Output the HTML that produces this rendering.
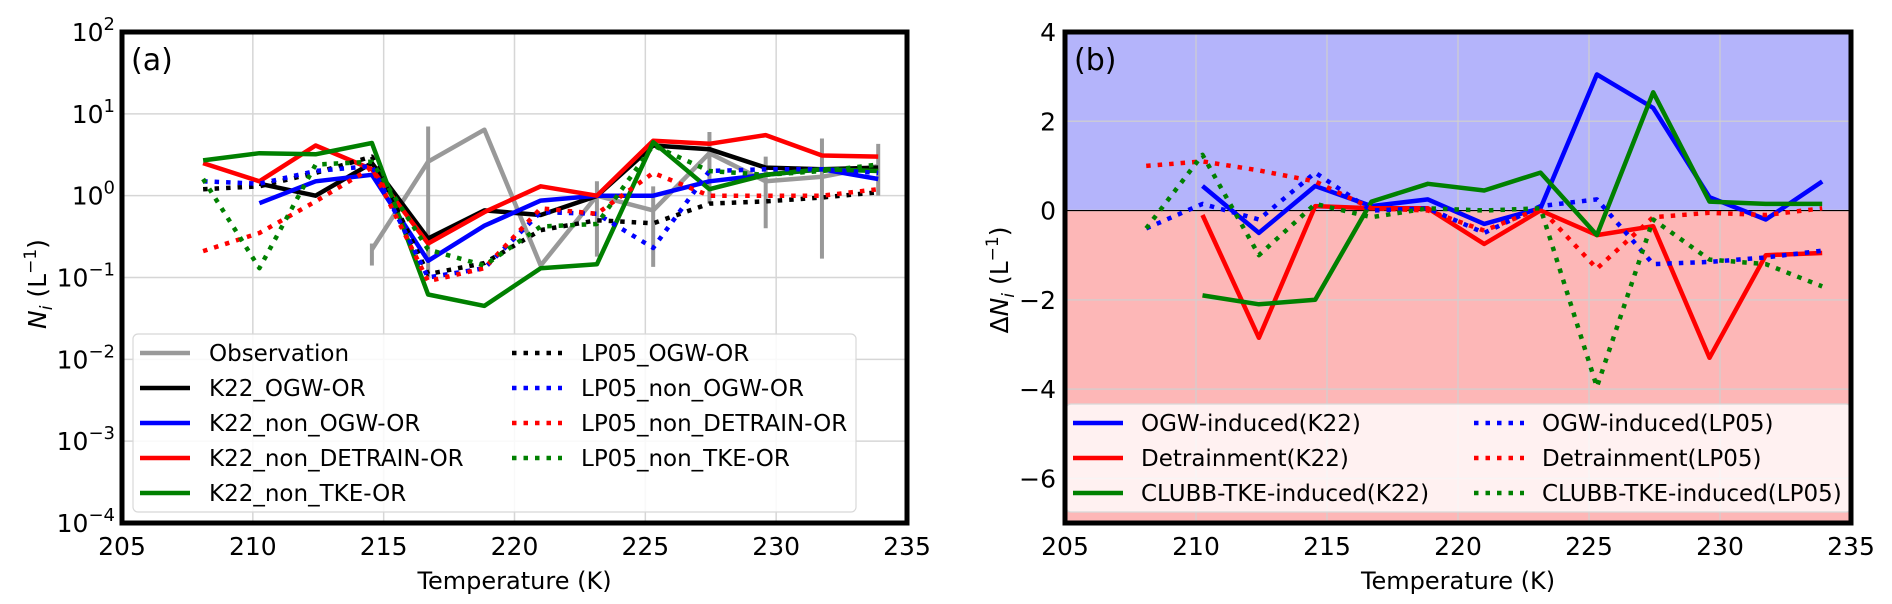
<!DOCTYPE html>
<html><head><meta charset="utf-8"><style>
html,body{margin:0;padding:0;background:#fff;}
svg{display:block;font-family:"DejaVu Sans","Liberation Sans",sans-serif;}
</style></head><body>
<svg id="fig" width="1892" height="604" viewBox="0 0 1892 604" xmlns="http://www.w3.org/2000/svg">
<g id="pa"></g>
<g id="pb"></g>
</svg>
<script>
const temps=[208.1,210.25,212.4,214.55,216.7,218.85,221.0,223.15,225.3,227.45,229.6,231.75,233.9];
// Panel (a) values (L^-1), null = no point
const obs=[null,null,null,0.22,2.6,6.4,0.14,1.0,0.66,3.3,1.5,1.7,2.3];
const obsLo=[null,null,null,0.14,0.1,null,null,0.18,0.135,0.8,0.4,0.17,1.0];
const obsHi=[null,null,null,0.26,7.0,null,null,1.5,1.3,6.0,3.0,5.0,4.3];
const k22Ogw=[null,1.4,1.0,2.5,0.3,0.66,0.58,0.99,4.1,3.7,2.2,2.1,2.2];
const k22NonOgw=[null,0.81,1.5,1.8,0.16,0.43,0.87,1.0,1.0,1.5,1.8,2.1,1.6];
const k22NonDet=[2.5,1.5,4.1,2.1,0.26,0.63,1.3,1.0,4.7,4.3,5.5,3.1,3.0];
const k22NonTke=[2.7,3.3,3.2,4.4,0.062,0.045,0.13,0.145,4.5,1.2,1.8,2.1,2.0];
const lpOgw=[1.2,1.3,1.9,3.0,0.11,0.15,0.38,0.5,0.46,0.8,0.85,0.95,1.1];
const lpNonOgw=[1.5,1.4,2.0,2.3,0.1,0.13,0.63,0.6,0.23,2.0,2.1,2.1,1.9];
const lpNonDet=[0.21,0.35,0.85,2.2,0.09,0.13,0.7,0.6,1.9,1.0,1.0,1.0,1.2];
const lpNonTke=[1.6,0.13,2.4,2.6,0.22,0.14,0.42,0.45,4.1,2.0,1.8,2.0,2.4];
// Panel (b) values (L^-1)
const dOgwK=[null,0.55,-0.5,0.55,0.1,0.25,-0.3,0.05,3.05,2.3,0.3,-0.2,0.65];
const dDetK=[null,-0.1,-2.85,0.1,0.05,0.05,-0.75,0.0,-0.55,-0.35,-3.3,-1.0,-0.95];
const dTkeK=[null,-1.9,-2.1,-2.0,0.2,0.6,0.45,0.85,-0.55,2.65,0.2,0.15,0.15];
const dOgwL=[-0.4,0.15,-0.2,0.85,0.0,0.05,-0.5,0.1,0.25,-1.2,-1.15,-1.05,-0.9];
const dDetL=[1.0,1.1,0.9,0.65,0.05,0.0,-0.45,0.05,-1.3,-0.15,-0.05,-0.1,0.05];
const dTkeL=[-0.4,1.25,-1.0,0.15,-0.15,0.05,0.0,0.05,-3.95,-0.2,-1.1,-1.2,-1.7];
const xTicks=[205,210,215,220,225,230,235];
const aTicks=[2,1,0,-1,-2,-3,-4];
const bTicks=[4,2,0,-2,-4,-6];

const NS="http://www.w3.org/2000/svg";
function mk(parent,tag,attrs,text){const e=document.createElementNS(NS,tag);for(const k in attrs)e.setAttribute(k,attrs[k]);if(text!==undefined)e.textContent=text;parent.appendChild(e);return e;}
const A={l:122,r:907,t:32,b:523};
const B={l:1065,r:1851,t:32,b:523};
const ax=T=>A.l+(T-205)*(A.r-A.l)/30;
const ay=v=>A.t+(2-Math.log10(v))*(A.b-A.t)/6;
const bx=T=>B.l+(T-205)*(B.r-B.l)/30;
const by=v=>B.t+(4-v)*(B.b-B.t)/11;
const pa=document.getElementById('pa'), pb=document.getElementById('pb');

function series(g,vals,fx,fy,color,dotted,name){
  let d='';let pen=false;
  vals.forEach((v,i)=>{if(v===null){pen=false;return;}d+=(pen?'L':'M')+fx(temps[i]).toFixed(1)+' '+fy(v).toFixed(1)+' ';pen=true;});
  const p=mk(g,'path',{d:d,fill:'none',stroke:color,'stroke-width':4.5,'stroke-linejoin':'round'});
  if(dotted)p.setAttribute('stroke-dasharray','4.5 7');
  
  
}
function legend(g,x,y,w,h,bg,items,cols,rowH,hx,tx,col2){
  const box=mk(g,'rect',{x:x,y:y,width:w,height:h,rx:5,fill:bg,stroke:'#d8d8d8','stroke-width':1.2});
  
  
  items.forEach((it,i)=>{
    const c=Math.floor(i/cols),r=i%cols;
    const ox=c*col2, yy=y+19+r*rowH;
    const ln=mk(g,'line',{x1:hx+ox,x2:hx+ox+50,y1:yy,y2:yy,stroke:it[1],'stroke-width':4.5});
    if(it[2])ln.setAttribute('stroke-dasharray','4.5 7');
    
    
    const t=mk(g,'text',{x:tx+ox,y:yy+8,'font-size':23,fill:'#000'},it[0]);
    
    
  });
}

// ---------- Panel a ----------
xTicks.forEach(T=>{const l=mk(pa,'line',{x1:ax(T),x2:ax(T),y1:A.t,y2:A.b,stroke:'#d6d6d6','stroke-width':1.5});});
aTicks.forEach(e=>{const l=mk(pa,'line',{x1:A.l,x2:A.r,y1:ay(Math.pow(10,e)),y2:ay(Math.pow(10,e)),stroke:'#d6d6d6','stroke-width':1.5});});
temps.forEach((T,i)=>{if(obsLo[i]===null)return;const l=mk(pa,'line',{x1:ax(T),x2:ax(T),y1:ay(obsLo[i]),y2:ay(obsHi[i]),stroke:'#999','stroke-width':4});});
series(pa,obs,ax,ay,'#999999',false,'observation-line');
series(pa,k22Ogw,ax,ay,'#000000',false,'k22-ogw-or-line');
series(pa,k22NonOgw,ax,ay,'#0000ff',false,'k22-non-ogw-or-line');
series(pa,k22NonDet,ax,ay,'#ff0000',false,'k22-non-detrain-or-line');
series(pa,k22NonTke,ax,ay,'#008000',false,'k22-non-tke-or-line');
series(pa,lpOgw,ax,ay,'#000000',true,'lp05-ogw-or-line');
series(pa,lpNonOgw,ax,ay,'#0000ff',true,'lp05-non-ogw-or-line');
series(pa,lpNonDet,ax,ay,'#ff0000',true,'lp05-non-detrain-or-line');
series(pa,lpNonTke,ax,ay,'#008000',true,'lp05-non-tke-or-line');
legend(pa,133,334,723,178,'rgba(255,255,255,0.85)',[
 ['Observation','#999999',false],['K22_OGW-OR','#000',false],['K22_non_OGW-OR','#0000ff',false],['K22_non_DETRAIN-OR','#ff0000',false],['K22_non_TKE-OR','#008000',false],
 ['LP05_OGW-OR','#000',true],['LP05_non_OGW-OR','#0000ff',true],['LP05_non_DETRAIN-OR','#ff0000',true],['LP05_non_TKE-OR','#008000',true]],5,35,140,209,372);
(function(){const f=mk(pa,'rect',{x:A.l,y:A.t,width:A.r-A.l,height:A.b-A.t,fill:'none',stroke:'#000','stroke-width':5});})();
xTicks.forEach(T=>{const t=mk(pa,'text',{x:ax(T),y:555,'font-size':25,'text-anchor':'middle'},String(T));});
aTicks.forEach(e=>{const t=mk(pa,'text',{x:115,y:ay(Math.pow(10,e))+9,'font-size':25,'text-anchor':'end'},'10');
  mk(t,'tspan',{dy:-11,'font-size':18},e<0?'\u2212'+(-e):String(e));
  });
(function(){
 const t=mk(pa,'text',{x:A.l+9,y:A.t+38,'font-size':30},'(a)');
 const xl=mk(pa,'text',{x:(A.l+A.r)/2,y:589,'font-size':24,'text-anchor':'middle'},'Temperature (K)');
 const yl=mk(pa,'text',{x:0,y:0,'font-size':25,'text-anchor':'middle',transform:'translate(46,284) rotate(-90)'});
 mk(yl,'tspan',{'font-style':'italic'},'N');mk(yl,'tspan',{'font-style':'italic','font-size':17,dy:6},'i');mk(yl,'tspan',{dy:-6},' (L');mk(yl,'tspan',{'font-size':17,dy:-10},'\u22121');mk(yl,'tspan',{dy:10},')');
 
})();

// ---------- Panel b ----------
(function(){
 const r1=mk(pb,'rect',{x:B.l,y:B.t,width:B.r-B.l,height:by(0)-B.t,fill:'#b4b4fb'});
 const r2=mk(pb,'rect',{x:B.l,y:by(0),width:B.r-B.l,height:B.b-by(0),fill:'#fdb7b7'});
})();
xTicks.forEach(T=>{const l=mk(pb,'line',{x1:bx(T),x2:bx(T),y1:B.t,y2:B.b,stroke:'#cfcfcf','stroke-width':1.5,'stroke-opacity':0.8});});
bTicks.forEach(v=>{const l=mk(pb,'line',{x1:B.l,x2:B.r,y1:by(v),y2:by(v),stroke:'#cfcfcf','stroke-width':1.5,'stroke-opacity':0.8});});
(function(){const l=mk(pb,'line',{x1:B.l,x2:B.r,y1:by(0),y2:by(0),stroke:'#000','stroke-width':1.2});})();
series(pb,dOgwK,bx,by,'#0000ff',false,'ogw-induced-k22-line');
series(pb,dDetK,bx,by,'#ff0000',false,'detrainment-k22-line');
series(pb,dTkeK,bx,by,'#008000',false,'clubb-tke-induced-k22-line');
series(pb,dOgwL,bx,by,'#0000ff',true,'ogw-induced-lp05-line');
series(pb,dDetL,bx,by,'#ff0000',true,'detrainment-lp05-line');
series(pb,dTkeL,bx,by,'#008000',true,'clubb-tke-induced-lp05-line');
legend(pb,1066,404,785,108,'rgba(255,255,255,0.8)',[
 ['OGW-induced(K22)','#0000ff',false],['Detrainment(K22)','#ff0000',false],['CLUBB-TKE-induced(K22)','#008000',false],
 ['OGW-induced(LP05)','#0000ff',true],['Detrainment(LP05)','#ff0000',true],['CLUBB-TKE-induced(LP05)','#008000',true]],3,35,1073,1141,401);
(function(){const f=mk(pb,'rect',{x:B.l,y:B.t,width:B.r-B.l,height:B.b-B.t,fill:'none',stroke:'#000','stroke-width':5});})();
xTicks.forEach(T=>{const t=mk(pb,'text',{x:bx(T),y:555,'font-size':25,'text-anchor':'middle'},String(T));});
bTicks.forEach(v=>{const t=mk(pb,'text',{x:1056,y:by(v)+9,'font-size':25,'text-anchor':'end'},v<0?'\u2212'+(-v):String(v));});
(function(){
 const t=mk(pb,'text',{x:B.l+9,y:B.t+38,'font-size':30},'(b)');
 const xl=mk(pb,'text',{x:(B.l+B.r)/2,y:589,'font-size':24,'text-anchor':'middle'},'Temperature (K)');
 const yl=mk(pb,'text',{x:0,y:0,'font-size':25,'text-anchor':'middle',transform:'translate(1008,280) rotate(-90)'});
 mk(yl,'tspan',{},'\u0394');mk(yl,'tspan',{'font-style':'italic'},'N');mk(yl,'tspan',{'font-style':'italic','font-size':17,dy:6},'i');mk(yl,'tspan',{dy:-6},' (L');mk(yl,'tspan',{'font-size':17,dy:-10},'\u22121');mk(yl,'tspan',{dy:10},')');
 
})();
</script>
</body></html>
